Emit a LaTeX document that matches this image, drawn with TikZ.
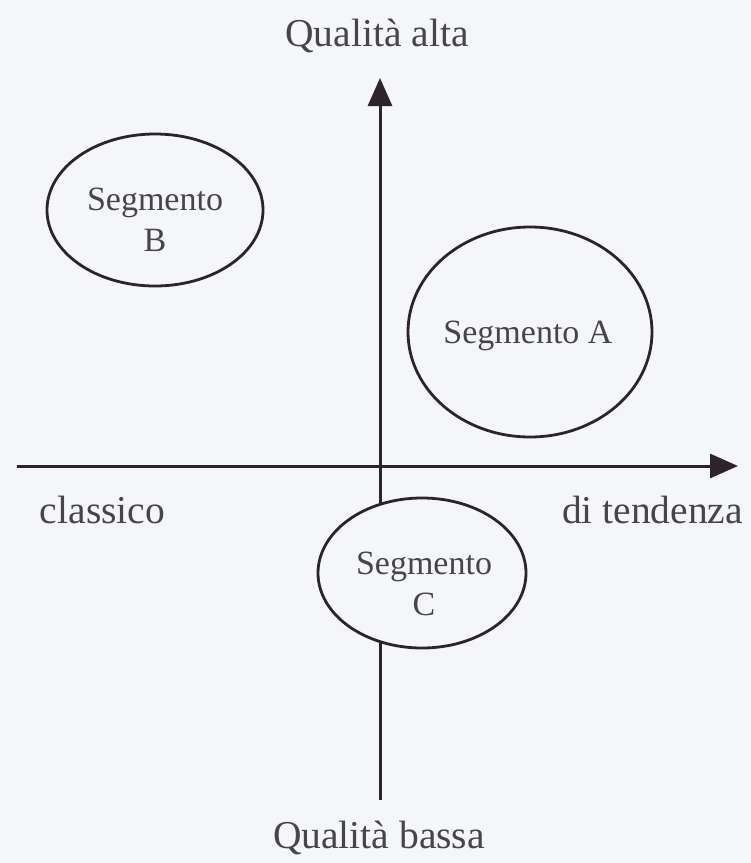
\documentclass[tikz,border=0pt]{standalone}
\usepackage{fontspec}
\setmainfont{Liberation Serif}
\usetikzlibrary{arrows.meta,shapes.geometric}
\definecolor{bgc}{RGB}{245,246,248}
\definecolor{inkc}{RGB}{44,36,40}
\definecolor{txtc}{RGB}{70,70,72}
\tikzset{
  axisline/.style={draw=inkc, line width=3pt, -{Triangle[length=28pt,width=24pt]}},
  segshape/.style={ellipse, draw=inkc, line width=2.8pt, fill=bgc, inner sep=0pt},
  axislabel/.style={text=txtc, font=\fontsize{39.5}{47}\selectfont, anchor=base, inner sep=0pt},
  segtext/.style={text=txtc, font=\fontsize{34}{41}\selectfont, align=center, inner sep=0pt}
}
\begin{document}
\begin{tikzpicture}[x=1pt,y=-1pt]
\fill[bgc] (0,0) rectangle (751,863);
\useasboundingbox (0,0) rectangle (751,863);
% axes
\coordinate (ybot) at (380,800);
\coordinate (ytop) at (380,78);
\coordinate (xleft) at (17,466);
\coordinate (xright) at (738,466);
\draw[axisline] (ybot) -- (ytop);
\draw[axisline] (xleft) -- (xright);
% segments
\node[segshape, minimum width=216pt, minimum height=152pt] (B) at (155,210) {};
\node[segshape, minimum width=244pt, minimum height=210pt] (A) at (530,332) {};
\node[segshape, minimum width=208pt, minimum height=150pt] (C) at (422,573) {};
\node[segtext] (Btext) at (155,220) {Segmento\\B};
\node[segtext, anchor=base] (Atext) at (528,343) {Segmento A};
\node[segtext] (Ctext) at (424,584) {Segmento\\C};
% axis labels
\node[axislabel] (qalta) at (377,46) {Qualità alta};
\node[axislabel] (qbassa) at (379,848) {Qualità bassa};
\node[axislabel] (classico) at (102.5,523) {classico};
\node[axislabel] (tendenza) at (652.5,523) {di tendenza};
\end{tikzpicture}
\end{document}
